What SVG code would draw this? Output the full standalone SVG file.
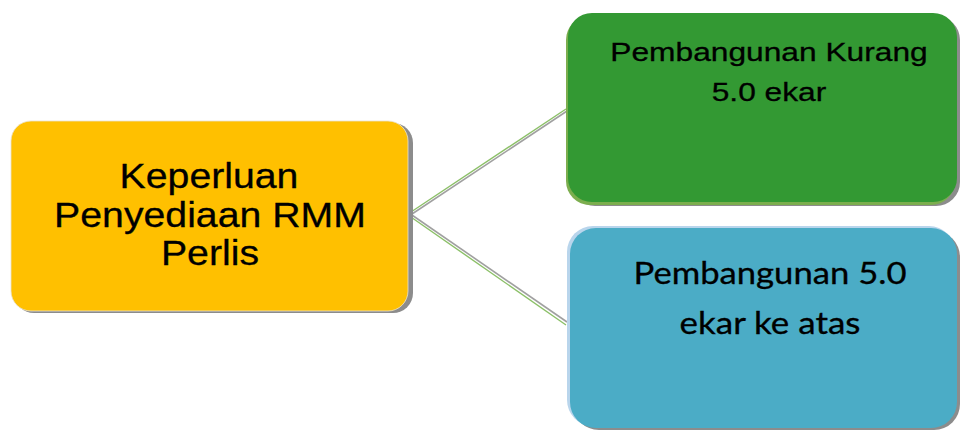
<svg xmlns="http://www.w3.org/2000/svg" width="960" height="430" viewBox="0 0 960 430">
  <style>
    .shadow { fill: #8c8c8c; }
    .lbl { fill: #000000; text-anchor: middle; stroke: #000000; stroke-width: 0.3; }
    .arial { font-family: "Liberation Sans", Arial, sans-serif; }
    .cal { font-family: Lato, "Open Sans", sans-serif; }
    .c-gray { stroke: #a0a0a0; stroke-width: 1.6; fill: none; }
    .c-green { stroke: #8cc068; stroke-width: 1.4; fill: none; }
  </style>
  <rect width="960" height="430" fill="#ffffff"/>
  <g id="connectors">
    <line class="c-gray" x1="409" y1="216" x2="567" y2="111"/>
    <line class="c-green" x1="408" y1="214" x2="566" y2="109"/>
    <line class="c-gray" x1="409" y1="213" x2="567" y2="322"/>
    <line class="c-green" x1="408" y1="215" x2="566" y2="325"/>
  </g>
  <g id="node-root">
    <rect class="shadow" x="14" y="123" width="399" height="190" rx="20"/>
    <rect x="11" y="121" width="397" height="190" rx="20" fill="#FFC000" stroke="#e8e2d0" stroke-width="0.8"/>
    <text class="lbl arial" transform="translate(209 187.5) scale(1.09 1)" font-size="36">Keperluan</text>
    <text class="lbl arial" transform="translate(210 226.5) scale(1.09 1)" font-size="36">Penyediaan RMM</text>
    <text class="lbl arial" transform="translate(210 265) scale(1.09 1)" font-size="36">Perlis</text>
  </g>
  <g id="node-kurang">
    <rect class="shadow" x="571" y="16" width="389" height="190" rx="24"/>
    <rect x="566" y="16" width="389" height="189" rx="24" fill="#7cae4e"/>
    <rect x="568" y="13" width="389" height="189" rx="24" fill="#339933"/>
    <text class="lbl arial" transform="translate(769 61) scale(1.22 1)" font-size="26">Pembangunan Kurang</text>
    <text class="lbl arial" transform="translate(769 101) scale(1.22 1)" font-size="26">5.0 ekar</text>
  </g>
  <g id="node-atas">
    <rect class="shadow" x="573" y="231" width="387" height="199" rx="26"/>
    <rect x="567" y="226" width="388" height="200" rx="26" fill="#b9d5ec"/>
    <rect x="570" y="228" width="387" height="200" rx="26" fill="#4BACC6"/>
    <text class="lbl cal" transform="translate(770 284) scale(1.1 1)" font-size="30" textLength="248.2" lengthAdjust="spacingAndGlyphs">Pembangunan 5.0</text>
    <text class="lbl cal" transform="translate(770 334) scale(1.1 1)" font-size="30" textLength="164.5" lengthAdjust="spacingAndGlyphs">ekar ke atas</text>
  </g>
</svg>
